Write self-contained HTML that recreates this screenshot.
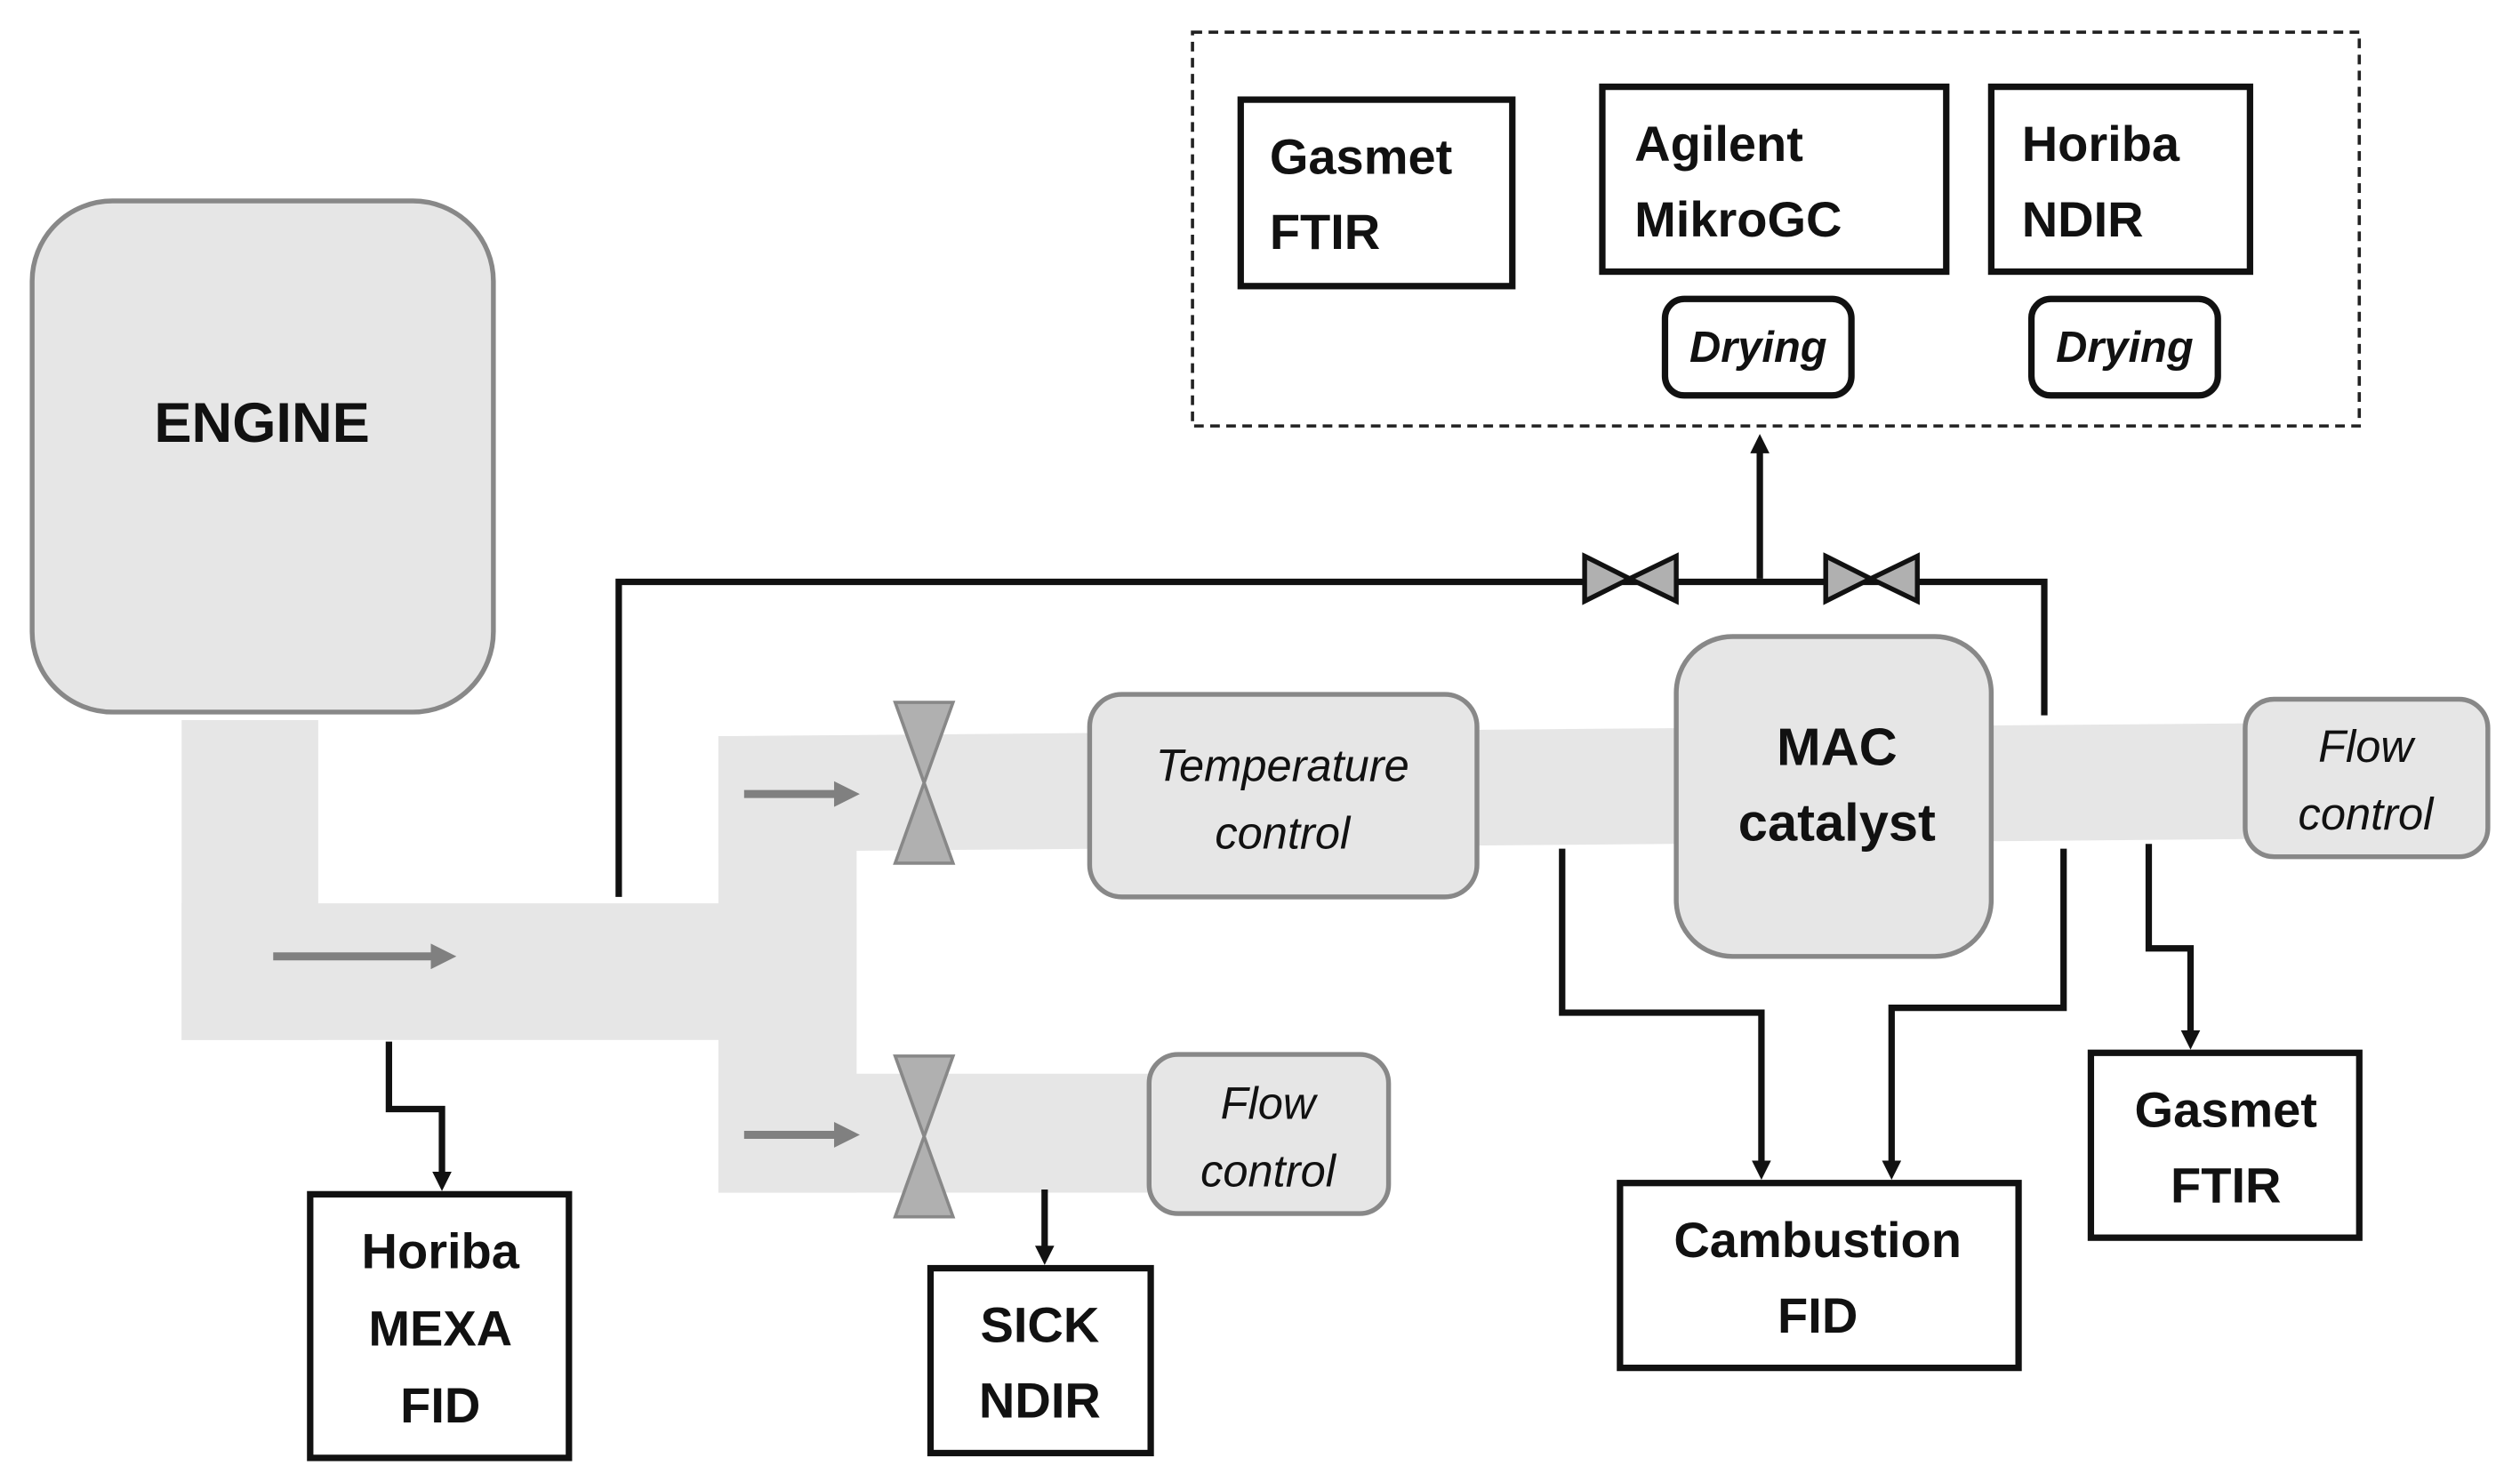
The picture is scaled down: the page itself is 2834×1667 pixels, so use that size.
<!DOCTYPE html>
<html><head><meta charset="utf-8"><style>
html,body{margin:0;padding:0;background:#fff;}
svg{display:block;}
text{font-family:"Liberation Sans",sans-serif;}
.b{font-weight:bold;font-size:31px;fill:#111;}
.i{font-style:italic;font-size:28px;fill:#111;}
.bi{font-style:italic;font-weight:bold;font-size:27px;fill:#111;}
</style></head><body>
<svg width="2834" height="1667" viewBox="0 0 1568 922" preserveAspectRatio="none" xmlns="http://www.w3.org/2000/svg">
<defs>
<marker id="ah" markerWidth="12" markerHeight="12" refX="2" refY="6" orient="auto" markerUnits="userSpaceOnUse" viewBox="0 0 12 12"><path d="M0,0 L12,6 L0,12 z" fill="#111"/></marker>
<marker id="ag" markerWidth="16" markerHeight="16" refX="2" refY="8" orient="auto" markerUnits="userSpaceOnUse" viewBox="0 0 16 16"><path d="M0,0 L16,8 L0,16 z" fill="#808080"/></marker>
</defs>
<rect x="742" y="20" width="726" height="245" fill="none" stroke="#222" stroke-width="2" stroke-dasharray="6,4"/>
<rect x="772" y="62" width="169" height="116" fill="#fff" stroke="#111" stroke-width="4"/>
<text class="b" x="790" y="108">Gasmet</text><text class="b" x="790" y="155">FTIR</text>
<rect x="997" y="54" width="214" height="115" fill="#fff" stroke="#111" stroke-width="4"/>
<text class="b" x="1017" y="100">Agilent</text><text class="b" x="1017" y="147">MikroGC</text>
<rect x="1239" y="54" width="161" height="115" fill="#fff" stroke="#111" stroke-width="4"/>
<text class="b" x="1258" y="100">Horiba</text><text class="b" x="1258" y="147">NDIR</text>
<rect x="1036" y="186" width="116" height="60" rx="12" fill="#fff" stroke="#111" stroke-width="4"/>
<text class="bi" x="1094" y="225" text-anchor="middle">Drying</text>
<rect x="1264" y="186" width="116" height="60" rx="12" fill="#fff" stroke="#111" stroke-width="4"/>
<text class="bi" x="1322" y="225" text-anchor="middle">Drying</text>
<g fill="#e6e6e6">
<rect x="113" y="448" width="85" height="199"/>
<rect x="113" y="562" width="420" height="85"/>
<rect x="447" y="458" width="86" height="284"/>
<polygon points="447,458 1400,450 1400,522 447,530"/>
<rect x="447" y="668" width="268" height="74"/>
</g>
<rect x="20" y="125" width="287" height="318" rx="50" fill="#e6e6e6" stroke="#888" stroke-width="3"/>
<text class="b" x="163" y="275" text-anchor="middle" style="font-size:35px">ENGINE</text>
<g stroke="#808080" stroke-width="5">
<line x1="170" y1="595" x2="270" y2="595" marker-end="url(#ag)"/>
<line x1="463" y1="494" x2="521" y2="494" marker-end="url(#ag)"/>
<line x1="463" y1="706" x2="521" y2="706" marker-end="url(#ag)"/>
</g>
<g fill="#b0b0b0" stroke="#888" stroke-width="2">
<polygon points="557,437 593,437 575,487 593,537 557,537 575,487"/>
<polygon points="557,657 593,657 575,707 593,757 557,757 575,707"/>
</g>
<g fill="#e6e6e6" stroke="#888" stroke-width="3">
<rect x="678" y="432" width="241" height="126" rx="20"/>
<rect x="1043" y="396" width="196" height="199" rx="35"/>
<rect x="1397" y="435" width="151" height="98" rx="18"/>
<rect x="715" y="656" width="149" height="99" rx="18"/>
</g>
<text class="i" x="798" y="486" text-anchor="middle">Temperature</text>
<text class="i" x="798" y="528" text-anchor="middle">control</text>
<text class="b" x="1143" y="476" text-anchor="middle" style="font-size:33px">MAC</text>
<text class="b" x="1143" y="523" text-anchor="middle" style="font-size:33px">catalyst</text>
<text class="i" x="1472" y="474" text-anchor="middle">Flow</text>
<text class="i" x="1472" y="516" text-anchor="middle">control</text>
<text class="i" x="789" y="696" text-anchor="middle">Flow</text>
<text class="i" x="789" y="738" text-anchor="middle">control</text>
<g fill="none" stroke="#111" stroke-width="4">
<polyline points="385,558 385,362 1272,362 1272,445"/>
<line x1="1095" y1="360" x2="1095" y2="280" marker-end="url(#ah)"/>
<polyline points="972,528 972,630 1096,630 1096,724" marker-end="url(#ah)"/>
<polyline points="1284,528 1284,627 1177,627 1177,724" marker-end="url(#ah)"/>
<polyline points="1337,525 1337,590 1363,590 1363,643" marker-end="url(#ah)"/>
<polyline points="242,648 242,690 275,690 275,731" marker-end="url(#ah)"/>
<line x1="650" y1="740" x2="650" y2="777" marker-end="url(#ah)"/>
</g>
<g fill="#b0b0b0" stroke="#111" stroke-width="3">
<polygon points="986,346 1014,360 986,374"/><polygon points="1043,346 1014,360 1043,374"/>
<polygon points="1136,346 1164,360 1136,374"/><polygon points="1193,346 1164,360 1193,374"/>
</g>
<g fill="#fff" stroke="#111" stroke-width="4">
<rect x="193" y="743" width="161" height="164"/>
<rect x="579" y="789" width="137" height="115"/>
<rect x="1008" y="736" width="248" height="115"/>
<rect x="1301" y="655" width="167" height="115"/>
</g>
<text class="b" x="274" y="789" text-anchor="middle">Horiba</text>
<text class="b" x="274" y="837" text-anchor="middle">MEXA</text>
<text class="b" x="274" y="885" text-anchor="middle">FID</text>
<text class="b" x="647" y="835" text-anchor="middle">SICK</text>
<text class="b" x="647" y="882" text-anchor="middle">NDIR</text>
<text class="b" x="1131" y="782" text-anchor="middle">Cambustion</text>
<text class="b" x="1131" y="829" text-anchor="middle">FID</text>
<text class="b" x="1385" y="701" text-anchor="middle">Gasmet</text>
<text class="b" x="1385" y="748" text-anchor="middle">FTIR</text>
</svg>
</body></html>
